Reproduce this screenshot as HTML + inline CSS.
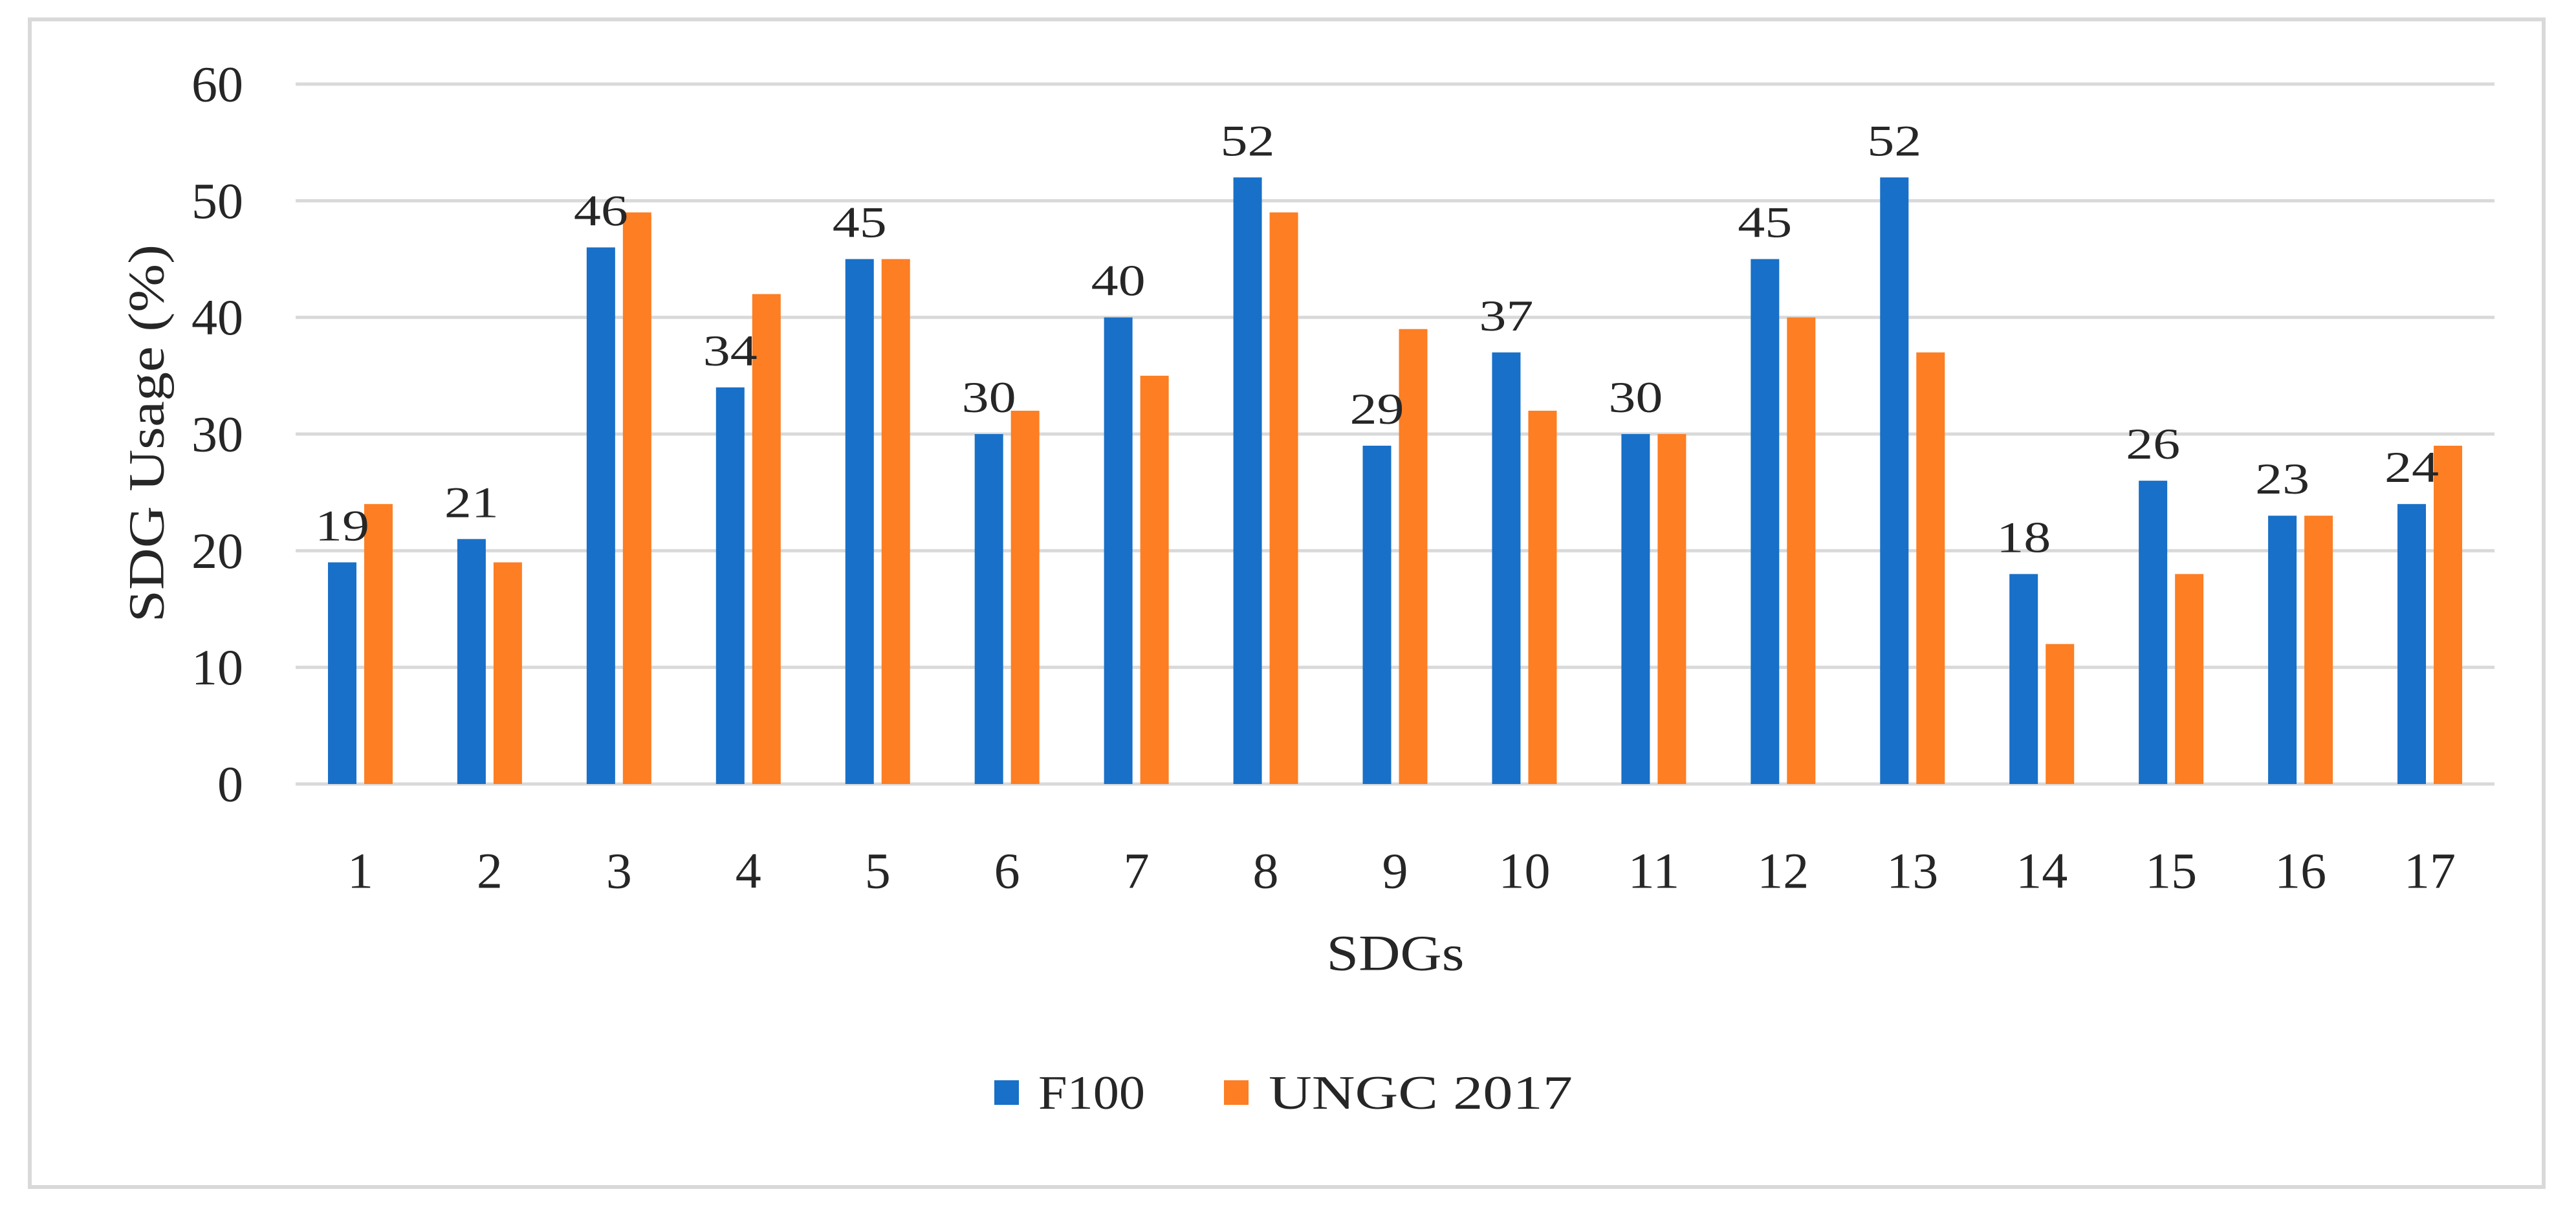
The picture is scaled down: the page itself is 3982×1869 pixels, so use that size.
<!DOCTYPE html>
<html><head><meta charset="utf-8"><style>
html,body{margin:0;padding:0;background:#fff;}
svg{display:block;}
text{font-family:"Liberation Serif",serif;fill:#262626;}
</style></head><body>
<svg id="chart" width="3982" height="1869" viewBox="0 0 3982 1869">
<rect x="46" y="30" width="3886" height="1805" fill="#fff" stroke="#d9d9d9" stroke-width="6"/>
<g id="grid"></g><g id="bars"></g><g id="labels"></g>
<text x="226" y="670" font-size="78" text-anchor="middle" textLength="584" lengthAdjust="spacingAndGlyphs" transform="rotate(-90 226 670)" dominant-baseline="central">SDG Usage (%)</text>
<text x="2157" y="1473" font-size="78" text-anchor="middle" textLength="213" lengthAdjust="spacingAndGlyphs" dominant-baseline="central">SDGs</text>
<g>
<rect x="1537" y="1670" width="38" height="38" fill="#1870c8"/>
<text x="1605" y="1690" font-size="74" textLength="165" lengthAdjust="spacingAndGlyphs" dominant-baseline="central">F100</text>
<rect x="1892" y="1670" width="38" height="38" fill="#fd7e23"/>
<text x="1961" y="1690" font-size="74" textLength="470" lengthAdjust="spacingAndGlyphs" dominant-baseline="central">UNGC 2017</text>
</g>
</svg>
<script>
const categories=["1","2","3","4","5","6","7","8","9","10","11","12","13","14","15","16","17"];
const f100=[19,21,46,34,45,30,40,52,29,37,30,45,52,18,26,23,24];
const ungc=[24,19,49,42,45,32,35,49,39,32,30,40,37,12,18,23,29];
const yTicks=[0,10,20,30,40,50,60];
const NS="http://www.w3.org/2000/svg";
const L=457,R=3856,Y0=1212,Y60=130;
const y=v=>Y0-(v/60)*(Y0-Y60);
const bw=(R-L)/categories.length;
const xc=i=>L+bw*(i+0.5);
function mk(t,a,p){const e=document.createElementNS(NS,t);for(const k in a)e.setAttribute(k,a[k]);p.appendChild(e);return e;}
const grid=document.getElementById('grid'),bars=document.getElementById('bars'),labels=document.getElementById('labels');
yTicks.forEach(v=>{
 const l=mk('line',{x1:L,x2:R,y1:y(v),y2:y(v),stroke:'#d9d9d9','stroke-width':5},grid);
 
 
 const s=String(v);
 const t=mk('text',{x:376,y:y(v),'font-size':78,'text-anchor':'end','dominant-baseline':'central',textLength:40*s.length,lengthAdjust:'spacingAndGlyphs'},grid);
 t.textContent=s;
 
 
});
const W=44,G=12;
categories.forEach((c,i)=>{
 const b1=mk('rect',{x:xc(i)-G/2-W,y:y(f100[i]),width:W,height:Y0-y(f100[i]),fill:'#1870c8'},bars);
 
 
 const b2=mk('rect',{x:xc(i)+G/2,y:y(ungc[i]),width:W,height:Y0-y(ungc[i]),fill:'#fd7e23'},bars);
 
 
 const s=String(f100[i]);
 const t=mk('text',{x:xc(i)-G/2-W/2,y:y(f100[i])-34,'font-size':68,'text-anchor':'middle',textLength:42*s.length,lengthAdjust:'spacingAndGlyphs'},labels);
 t.textContent=s;
 
 
 const xt=mk('text',{x:xc(i),y:1346,'font-size':78,'text-anchor':'middle','dominant-baseline':'central',textLength:40*c.length,lengthAdjust:'spacingAndGlyphs'},labels);
 xt.textContent=c;
 
 
});
</script>
</body></html>
